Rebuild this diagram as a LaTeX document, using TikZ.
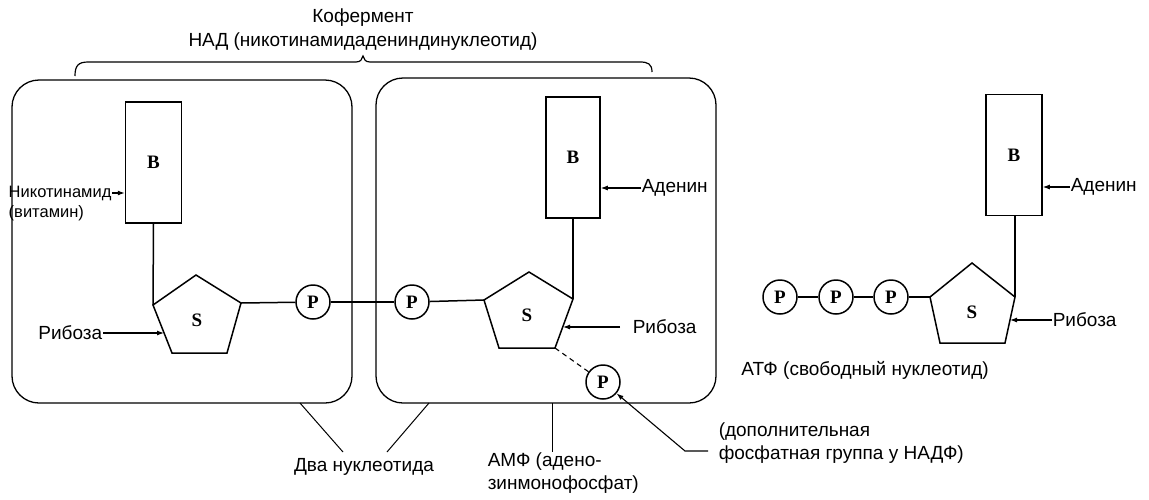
\documentclass[tikz,border=0pt]{standalone}
\usepackage{fontspec}
\setmainfont{Liberation Sans}
\newfontfamily\serifb{Liberation Serif}
\usetikzlibrary{arrows.meta}
\begin{document}
\begin{tikzpicture}[x=1pt,y=-1pt,
  line width=1.5pt,
  lbl/.style={font=\fontsize{19}{23}\selectfont, inner sep=0pt},
  smalllbl/.style={font=\fontsize{16.5}{20}\selectfont, inner sep=0pt},
  letter/.style={font=\serifb\bfseries\fontsize{19}{19}\selectfont},
  basebox/.style={draw, minimum width=56pt, minimum height=121pt, inner sep=0pt, letter},
  phos/.style={draw, circle, minimum size=34pt, inner sep=0pt, letter},
  groupbox/.style={draw, rounded corners=27pt, line width=1.3pt},
  tip/.style={-{Latex[length=7pt,width=5pt]}, line width=1.1pt},
  thinline/.style={line width=1pt}]
\useasboundingbox (0,0) rectangle (1149,499);

% title and brace
\node[lbl] (koferm) at (363,18) {Кофермент};
\node[lbl] (nad) at (363,42) {НАД (никотинамидадениндинуклеотид)};
\draw[line width=1.2pt] (75,76) .. controls (75,66) and (78,62) .. (88,62) -- (356,62)
  .. controls (361,62) and (362,59) .. (363,56) .. controls (364,59) and (365,62) .. (370,62)
  -- (640,62) .. controls (648,62) and (652,64) .. (652,72);

% group boxes
\draw[groupbox] (12,80) rectangle (352,403);
\draw[groupbox] (376,78) rectangle (716,403);

% ---- left nucleotide
\node[basebox] (B1) at (153.5,162.5) {B};
\coordinate (p1ul) at (153,305);
\coordinate (p1t) at (196,275);
\coordinate (p1r) at (241,303);
\coordinate (p1br) at (227,353);
\coordinate (p1bl) at (172,353);
\draw (p1ul) -- (p1t) -- (p1r) -- (p1br) -- (p1bl) -- cycle;
\node[letter] (S1) at (197,320) {S};
\draw (B1.south) -- (p1ul);
\node[phos] (P1) at (313,302) {P};
\draw (p1r) -- (P1);

% ---- right nucleotide
\node[basebox, minimum width=54pt] (B2) at (573,157.5) {B};
\coordinate (p2l) at (484,300);
\coordinate (p2t) at (529,272);
\coordinate (p2r) at (573,299);
\coordinate (p2br) at (555,348);
\coordinate (p2bl) at (499,348);
\draw (p2l) -- (p2t) -- (p2r) -- (p2br) -- (p2bl) -- cycle;
\node[letter] (S2) at (527,315) {S};
\draw (B2.south) -- (p2r);
\node[phos] (P2) at (412,302) {P};
\draw (P1) -- (P2);
\draw (P2) -- (p2l);
\node[phos] (P3) at (603,382) {P};
\draw[dash pattern=on 5pt off 4pt, line width=1.1pt] (p2br) -- (P3);

% ---- labels, left
\node[smalllbl, anchor=west] (nic) at (8,193) {Никотинамид};
\node[smalllbl, anchor=west] (vit) at (8,213) {(витамин)};
\draw[tip] (nic.east) -- (nic.east -| B1.west);
\node[lbl, anchor=east] (rib1) at (103,333) {Рибоза};
\coordinate (r1tip) at (164,333);
\draw[tip] (rib1.east) -- (r1tip);

% ---- labels, right group
\node[lbl, anchor=west] (aden2) at (641,188) {Аденин};
\draw[tip] (aden2.west) -- (aden2.west -| B2.east);
\node[lbl, anchor=west] (rib2) at (632,327) {Рибоза};
\coordinate (r2s) at (620,327);
\coordinate (r2tip) at (563,327);
\draw[tip] (r2s) -- (r2tip);

% ---- bottom labels
\node[lbl] (dva) at (364,467) {Два нуклеотида};
\coordinate (dvaL) at (300,403);
\coordinate (dvaLe) at (343,452);
\coordinate (dvaR) at (429,403);
\coordinate (dvaRe) at (387,452);
\draw[thinline] (dvaL) -- (dvaLe);
\draw[thinline] (dvaR) -- (dvaRe);

\node[lbl, anchor=north west, align=left] (amf) at (487,452) {АМФ (адено-\\зинмонофосфат)};
\coordinate (amfT) at (552,403);
\coordinate (amfB) at (552,452);
\draw[thinline] (amfT) -- (amfB);

\node[lbl, anchor=north west, align=left] (dop) at (718,422) {(дополнительная\\фосфатная группа у НАДФ)};
\coordinate (d1) at (708,451);
\coordinate (d2) at (685,451);
\draw[tip] (d1) -- (d2) -- (P3);

% ---- ATP
\node[basebox] (B3) at (1014,155) {B};
\coordinate (p3l) at (930,297);
\coordinate (p3t) at (972,263);
\coordinate (p3r) at (1015,297);
\coordinate (p3br) at (1005,343);
\coordinate (p3bl) at (940,343);
\draw (p3l) -- (p3t) -- (p3r) -- (p3br) -- (p3bl) -- cycle;
\node[letter] (S3) at (972,312) {S};
\draw (B3.south -| p3r) -- (p3r);
\node[phos] (P4) at (780,297) {P};
\node[phos] (P5) at (836,297) {P};
\node[phos] (P6) at (891,297) {P};
\draw (P4) -- (P5);
\draw (P5) -- (P6);
\draw (P6) -- (p3l);
\node[lbl, anchor=west] (aden3) at (1070,187) {Аденин};
\draw[tip] (aden3.west) -- (aden3.west -| B3.east);
\node[lbl, anchor=west] (rib3) at (1052,320) {Рибоза};
\coordinate (r3tip) at (1010,320);
\draw[tip] (rib3.west) -- (r3tip);
\node[lbl] (atf) at (865,370) {АТФ (свободный нуклеотид)};
\end{tikzpicture}
\end{document}
